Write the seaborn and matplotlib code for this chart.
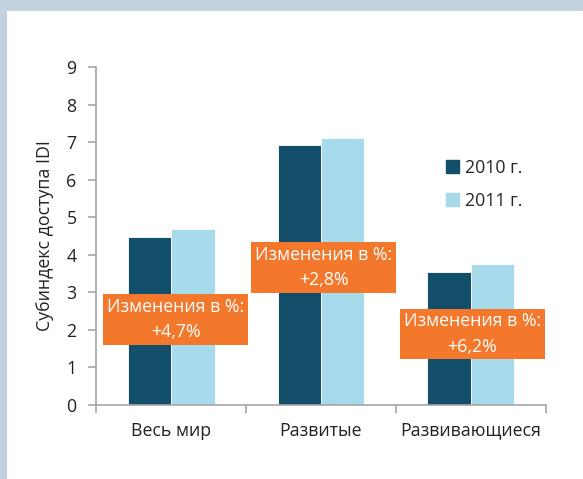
import matplotlib
matplotlib.use("Agg")
import matplotlib.pyplot as plt
import matplotlib.patches as mpatches
import pandas as pd
import seaborn as sns

# данные
categories = ["Весь мир", "Развитые", "Развивающиеся"]
years = ["2010 г.", "2011 г."]
values_2010 = [4.47, 6.91, 3.53]
values_2011 = [4.68, 7.10, 3.75]
changes = ["+4,7%", "+2,8%", "+6,2%"]

colors = ["#134F6A", "#A7DAEB"]
orange = "#F3782C"

sns.set_theme(style="white")
plt.rcParams["font.family"] = ["Open Sans", "DejaVu Sans"]

df = pd.DataFrame({
    "cat": categories * 2,
    "year": [years[0]] * 3 + [years[1]] * 3,
    "val": values_2010 + values_2011,
})

fig = plt.figure(figsize=(5.83, 4.79), dpi=100)
ax = fig.add_axes([0.1647, 0.1545, 0.7718, 0.7056])

sns.barplot(data=df, x="cat", y="val", hue="year", palette=colors, width=0.58,
            saturation=1, edgecolor="white", linewidth=0.6, ax=ax, legend=False)

fs = 12.8
ax.set_xlim(-0.5, 2.5)
ax.set_ylim(0, 9)
ax.set_yticks(range(10))
ax.set_xlabel("")
ax.set_ylabel("Субиндекс доступа IDI", fontsize=fs, color="#222222", labelpad=9)

gray = "#A6A6A6"
for s in ["top", "right"]:
    ax.spines[s].set_visible(False)
for s in ["left", "bottom"]:
    ax.spines[s].set_color(gray)
    ax.spines[s].set_linewidth(1.2)

ax.tick_params(axis="y", direction="out", length=6, width=1.2, color=gray,
               labelsize=fs, labelcolor="#222222", left=True, pad=8)
ax.tick_params(axis="x", which="major", length=0, labelsize=fs,
               labelcolor="#222222", pad=12)
ax.set_xticks([-0.5, 0.5, 1.5, 2.5], minor=True)
ax.tick_params(axis="x", which="minor", direction="out", length=6, width=1.2,
               color=gray, bottom=True)

# оранжевые плашки
box_pos = [(0.03, 2.28), (1.017, 3.66), (2.01, 1.89)]
for (bx, by), ch in zip(box_pos, changes):
    ax.text(bx, by, "Изменения в %:\n" + ch, ha="center", va="center",
            fontsize=fs, color="white", linespacing=1.55,
            bbox=dict(boxstyle="square,pad=0.2", fc=orange, ec="none"))

handles = [mpatches.Patch(color=c, label=y) for c, y in zip(colors, years)]
ax.legend(handles=handles, loc="upper left", bbox_to_anchor=(0.742, 0.775),
          frameon=False, fontsize=fs, handlelength=0.75, handleheight=0.75,
          handletextpad=0.3, labelspacing=0.85)

# рамка
frame = "#C1D1DD"
fig.patches.append(mpatches.Rectangle((0, 1 - 11 / 479), 1, 11 / 479,
                                      transform=fig.transFigure, fc=frame, ec="none"))
fig.patches.append(mpatches.Rectangle((0, 0), 7 / 583, 1,
                                      transform=fig.transFigure, fc=frame, ec="none"))

fig.savefig("out.png", dpi=100)
